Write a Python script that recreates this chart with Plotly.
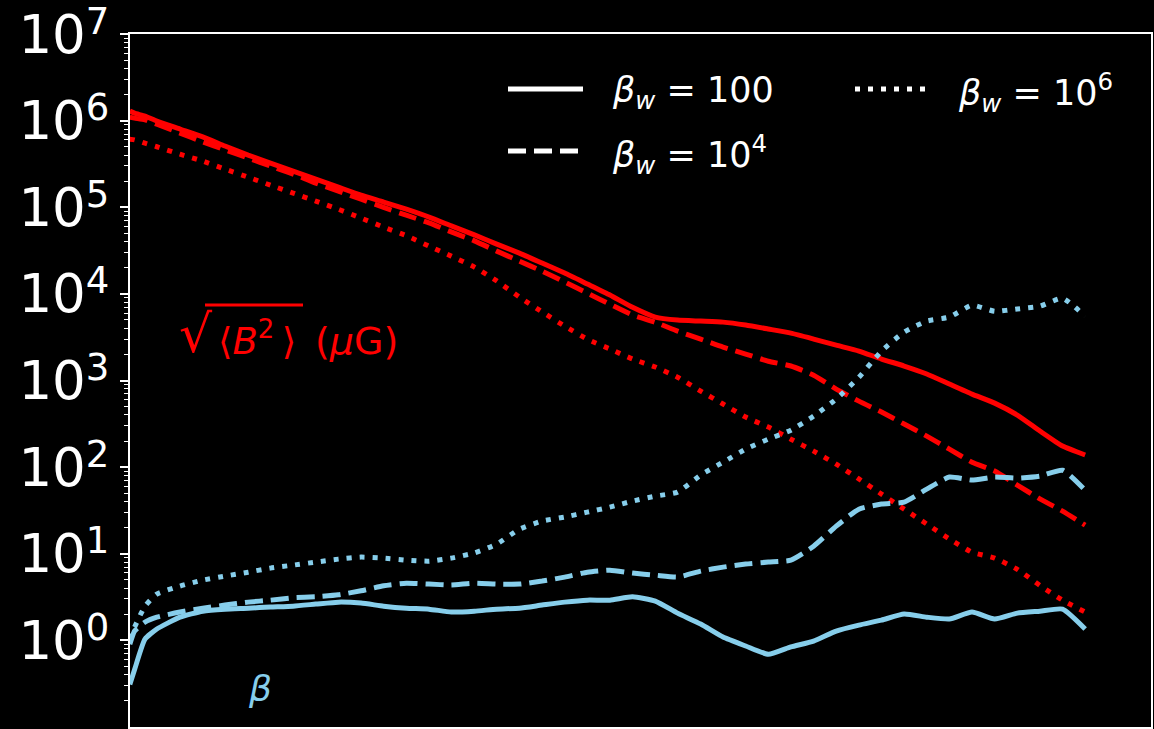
import plotly.graph_objects as go

# Radial grid shared by all profiles
r = [0.6, 0.63, 0.7, 0.79, 1.0, 1.26, 1.58, 2.0, 2.51, 3.16, 3.98, 5.01, 6.31, 7.94,
     10.0, 12.6, 15.8, 20.0, 25.1, 31.6, 39.8, 50.1, 63.1, 79.4, 100, 126, 158, 200,
     251, 316, 398, 501, 631, 794, 1000, 1259, 1585, 1995, 2512, 3162, 3981, 5012,
     6310, 7943, 10000]

# RMS field strength (micro-Gauss) for each wind beta
brms_bw100 = [1.29e6, 1.22e6, 1.13e6, 9.9e5, 8.0e5, 6.5e5, 5.1e5, 4.0e5, 3.24e5, 2.62e5,
              2.12e5, 1.71e5, 1.38e5, 1.15e5, 9.5e4, 7.7e4, 6.1e4, 4.8e4, 3.76e4, 2.96e4,
              2.27e4, 1.74e4, 1.30e4, 9.7e3, 7.0e3, 5.4e3, 4.99e3, 4.85e3, 4.72e3, 4.37e3,
              3.93e3, 3.52e3, 3.01e3, 2.56e3, 2.19e3, 1.77e3, 1.47e3, 1.19e3, 910, 697,
              548, 399, 261, 175, 138]
brms_bw1e4 = [1.10e6, 1.07e6, 1.02e6, 9.1e5, 7.2e5, 5.7e5, 4.6e5, 3.7e5, 2.99e5, 2.42e5,
              1.90e5, 1.54e5, 1.24e5, 1.0e5, 8.1e4, 6.6e4, 5.2e4, 4.1e4, 3.12e4, 2.39e4,
              1.83e4, 1.37e4, 1.02e4, 7.6e3, 5.7e3, 4.7e3, 3.72e3, 3.0e3, 2.43e3, 2.02e3,
              1.67e3, 1.47e3, 1.15e3, 796, 578, 432, 314, 228, 161, 114,
              90, 62, 43, 31, 21.4]
brms_bw1e6 = [6.1e5, 6.0e5, 5.5e5, 5.0e5, 4.1e5, 3.42e5, 2.76e5, 2.23e5, 1.80e5, 1.46e5,
              1.18e5, 9.5e4, 7.5e4, 5.9e4, 4.7e4, 3.56e4, 2.73e4, 2.04e4, 1.41e4, 9.2e3,
              6.2e3, 4.25e3, 3.0e3, 2.31e3, 1.77e3, 1.43e3, 1.09e3, 755, 535, 378,
              290, 210, 153, 108, 73, 48.8, 32.7, 22, 14.8, 10.4,
              8.9, 6.6, 4.3, 2.91, 2.12]

# Plasma beta for each wind beta
beta_bw100 = [0.31, 0.46, 1.03, 1.35, 1.85, 2.17, 2.29, 2.35, 2.42, 2.48,
              2.62, 2.76, 2.69, 2.48, 2.35, 2.29, 2.12, 2.17, 2.29, 2.35,
              2.55, 2.76, 2.91, 2.91, 3.18, 2.84, 2.06, 1.54, 1.09, 0.86,
              0.69, 0.84, 0.98, 1.28, 1.50, 1.71, 2.01, 1.85, 1.76, 2.12,
              1.76, 2.06, 2.17, 2.29, 1.35]
beta_bw1e4 = [0.90, 1.28, 1.62, 1.85, 2.12, 2.35, 2.55, 2.76, 2.91, 3.10,
              3.18, 3.36, 3.73, 4.26, 4.57, 4.46, 4.35, 4.57, 4.46, 4.46,
              4.83, 5.37, 6.12, 6.46, 5.97, 5.66, 5.37, 6.29, 7.0, 7.59,
              8.0, 8.43, 12.2, 20.8, 32.7, 37.4, 39.4, 55.7, 76.7, 70.8,
              76.7, 74.6, 78.7, 92, 54]
beta_bw1e6 = [1.03, 1.42, 2.48, 3.42, 4.23, 4.95, 5.51, 6.12, 6.82, 7.38,
              8.0, 8.66, 9.14, 8.9, 8.43, 8.2, 8.9, 10.2, 12.9, 19.2,
              23.8, 26.5, 30.2, 34.5, 40.5, 46.2, 51.4, 81, 114, 161,
              210, 267, 388, 610, 1090, 2190, 3620, 4850, 5400, 7400,
              6300, 6700, 7200, 8900, 5500]

legend_labels = ["<i>β</i><sub><i>w</i></sub> = 100",
                 "<i>β</i><sub><i>w</i></sub> = 10<sup>4</sup>",
                 "<i>β</i><sub><i>w</i></sub> = 10<sup>6</sup>"]

y_tickvals = [1, 10, 100, 1e3, 1e4, 1e5, 1e6, 1e7]
y_exponents = [0, 1, 2, 3, 4, 5, 6, 7]
x_tickvals = [1, 10, 100, 1e3, 1e4]

RED = "#ff0000"
SKY = "#87ceeb"
FONT = "DejaVu Sans"
W, H = 1154, 729
ML, MR, MT, MB = 130, 3, 34, 2

DASH = {"solid": "solid", "dash": "18px,8px", "dot": "5px,8px"}

# Power-of-ten labels with a raised, smaller exponent
y_ticktext = ['10<span style="font-size:37px;baseline-shift:19px">%d</span>' % k
              for k in y_exponents]
y_minor = [m * 10.0 ** e for e in range(-1, 7) for m in range(2, 10)]
x_minor = [m * 10.0 ** e for e in range(-1, 4) for m in range(2, 10)]


def fx(p):
    return (p - ML) / (W - ML - MR)


def fy(p):
    return (H - MB - p) / (H - MT - MB)


fig = go.Figure()

series = [
    (brms_bw100, RED, "solid"), (brms_bw1e4, RED, "dash"), (brms_bw1e6, RED, "dot"),
    (beta_bw100, SKY, "solid"), (beta_bw1e4, SKY, "dash"), (beta_bw1e6, SKY, "dot"),
]
for vals, col, style in series:
    fig.add_trace(go.Scatter(
        x=r, y=vals, mode="lines", showlegend=False, hoverinfo="skip",
        line=dict(color=col, width=5, dash=DASH[style], shape="spline", smoothing=0.5),
    ))

# Legend key drawn as white line samples with labels (two columns)
key = [(508, 583, 89, "solid", 610, 92, legend_labels[0]),
       (508, 583, 151, "dash", 610, 154, legend_labels[1]),
       (855, 930, 89, "dot", 956, 92, legend_labels[2])]
for x0, x1, yl, style, tx, ty, label in key:
    fig.add_shape(type="line", xref="paper", yref="paper",
                  x0=fx(x0), x1=fx(x1), y0=fy(yl), y1=fy(yl),
                  line=dict(color="white", width=5, dash=DASH[style]))
    fig.add_annotation(xref="paper", yref="paper", x=fx(tx), y=fy(ty),
                       xanchor="left", yanchor="middle", showarrow=False,
                       text=label, font=dict(family=FONT, size=35, color="white"))

# Field-strength label: radical sign, bracketed mean, overline and unit
fig.add_annotation(xref="paper", yref="paper", x=fx(196), y=fy(334),
                   xanchor="center", yanchor="middle", showarrow=False,
                   text="√", font=dict(family=FONT, size=52, color=RED))
fig.add_annotation(xref="paper", yref="paper", x=fx(216), y=fy(338),
                   xanchor="left", yanchor="middle", showarrow=False,
                   text="⟨<i>B</i><sup>2</sup>\u2009⟩", font=dict(family=FONT, size=37, color=RED))
fig.add_annotation(xref="paper", yref="paper", x=fx(313), y=fy(341),
                   xanchor="left", yanchor="middle", showarrow=False,
                   text="(<i>μ</i>G)", font=dict(family=FONT, size=38, color=RED))
fig.add_shape(type="line", xref="paper", yref="paper",
              x0=fx(205), x1=fx(303), y0=fy(305), y1=fy(305),
              line=dict(color=RED, width=3))

fig.add_annotation(
    xref="paper", yref="paper", x=fx(260), y=fy(688), xanchor="center", yanchor="middle",
    showarrow=False, text="<i>β</i>", font=dict(family=FONT, size=36, color=SKY))

fig.update_xaxes(
    type="log", range=[-0.221, 4.291], showgrid=False, zeroline=False,
    showline=True, linecolor="white", linewidth=2, mirror=True,
    ticks="outside", ticklen=8, tickwidth=1.5, tickcolor="white",
    tickvals=x_tickvals, showticklabels=False, automargin=False,
    minor=dict(ticks="outside", ticklen=4, tickwidth=1, tickcolor="white", tickvals=x_minor),
)
fig.update_yaxes(
    type="log", range=[-1.001, 7.001], showgrid=False, zeroline=False,
    showline=True, linecolor="white", linewidth=2, mirror=True,
    ticks="outside", ticklen=8, tickwidth=1.5, tickcolor="white",
    tickvals=y_tickvals, ticktext=y_ticktext, automargin=False,
    ticklabeloverflow="allow",
    tickfont=dict(family=FONT, size=53, color="white"),
    minor=dict(ticks="outside", ticklen=4, tickwidth=1, tickcolor="white", tickvals=y_minor),
)
fig.update_layout(
    width=W, height=H, autosize=False,
    margin=dict(l=ML, r=MR, t=MT, b=MB, pad=0),
    paper_bgcolor="black", plot_bgcolor="black",
    font=dict(family=FONT, color="white"),
    showlegend=False,
)

fig.write_html("out.html")
